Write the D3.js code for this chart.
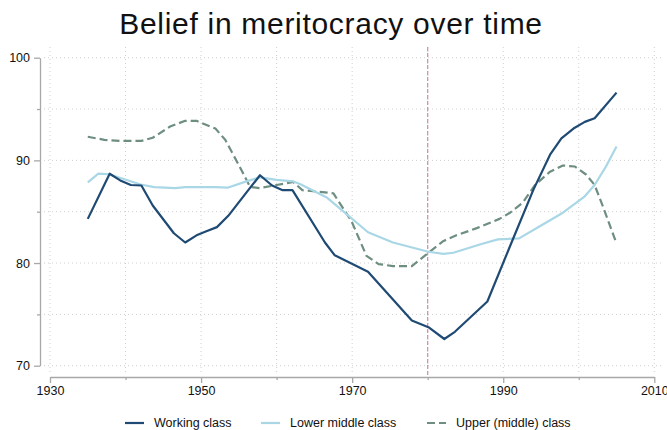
<!DOCTYPE html>
<html>
<head>
<meta charset="utf-8">
<script src="https://cdn.jsdelivr.net/npm/d3@7"></script>
<style>
  body { margin: 0; background: #fff; }
  svg { display: block; font-family: "Liberation Sans", Arial, Helvetica, sans-serif; }
</style>
</head>
<body>
<svg id="chart" width="667" height="430"></svg>
<script>
// values
const seriesNames = ['Working class', 'Lower middle class', 'Upper (middle) class'];

const workingYears = [1935, 1937.9, 1939.3, 1940.7, 1942.1, 1943.6, 1946.4, 1947.9, 1949.4, 1950.7, 1952.1, 1953.6, 1956.3, 1957.8, 1959.4, 1960.8, 1962.1, 1966.4, 1967.7, 1972.1, 1977.9, 1980.1, 1982.2, 1983.6, 1987.9, 1991.1, 1994.0, 1996.2, 1997.7, 1999.3, 2000.8, 2002.1, 2005];
const workingValues = [84.3, 88.7, 88.05, 87.6, 87.55, 85.6, 82.9, 82.0, 82.7, 83.1, 83.5, 84.6, 87.15, 88.55, 87.55, 87.1, 87.1, 82.0, 80.75, 79.15, 74.4, 73.75, 72.6, 73.3, 76.25, 82.0, 87.15, 90.55, 92.15, 93.1, 93.75, 94.1, 96.6];

const lowerYears = [1935, 1936.4, 1937.8, 1942.0, 1943.8, 1946.6, 1947.9, 1951.9, 1953.6, 1956.0, 1957.8, 1960.0, 1962.2, 1963.1, 1966.7, 1968.4, 1972.1, 1975.4, 1980.1, 1982.1, 1983.4, 1986.9, 1989.3, 1992.1, 1994.9, 1997.9, 2000.8, 2002.1, 2003.6, 2005];
const lowerValues = [87.85, 88.7, 88.65, 87.65, 87.4, 87.3, 87.4, 87.4, 87.35, 87.95, 88.35, 88.1, 87.95, 87.7, 86.35, 85.3, 83.0, 82.0, 81.1, 80.9, 81.0, 81.8, 82.3, 82.4, 83.6, 84.9, 86.5, 87.6, 89.4, 91.35];

const upperYears = [1935, 1937.2, 1939.3, 1942.1, 1943.6, 1945.9, 1947.9, 1949.4, 1951.9, 1953.2, 1955.1, 1956.5, 1957.8, 1960.0, 1962.2, 1963.4, 1967.5, 1969.9, 1971.9, 1973.5, 1975.4, 1977.9, 1980.1, 1982.1, 1983.8, 1986.5, 1989.5, 1990.9, 1992.6, 1994.2, 1996.2, 1997.9, 1999.5, 2001.0, 2002.1, 2003.2, 2005];
const upperValues = [92.3, 92.0, 91.9, 91.9, 92.2, 93.3, 93.85, 93.85, 93.1, 92.0, 89.4, 87.4, 87.3, 87.6, 87.9, 87.1, 86.8, 84.1, 80.7, 79.9, 79.7, 79.7, 81.0, 82.15, 82.7, 83.4, 84.3, 84.9, 85.9, 87.6, 88.9, 89.5, 89.4, 88.6, 87.6, 85.5, 81.9];

const xLabelTicks = [1930, 1950, 1970, 1990, 2010];
const xMinorTicks = [1940, 1960, 1980, 2000];
const yLabelTicks = [70, 80, 90, 100];
const yMinorTicks = [75, 85, 95];
const xGrid = [1930, 1940, 1950, 1960, 1970, 1980, 1990, 2000, 2010];
const yGrid = [70, 75, 80, 85, 90, 95, 100];
const markerYear = 1980;

const svg = d3.select('#chart');

const x = d3.scaleLinear().domain([1930, 2010]).range([50, 654.3]);
const y = d3.scaleLinear().domain([70, 100]).range([365.7, 57.7]);

const colors = ['#1f4a73', '#a9d7e6', '#6e8e80'];
const dashes = [null, null, '8,4'];

// title
svg.append('text')
  .attr('x', 331)
  .attr('y', 34)
  .attr('text-anchor', 'middle')
  .style('font-size', '30px')
  .style('letter-spacing', '0.7px')
  .style('fill', '#111')
  .text('Belief in meritocracy over time');

// grid
const grid = svg.append('g');
grid.selectAll('.hgrid')
  .data(yGrid)
  .enter()
  .append('line')
  .attr('x1', 44).attr('x2', 662)
  .attr('y1', d => y(d)).attr('y2', d => y(d))
  .attr('stroke', '#cfcfcf')
  .attr('stroke-width', 1)
  .attr('stroke-dasharray', '1,3');
grid.selectAll('.vgrid')
  .data(xGrid)
  .enter()
  .append('line')
  .attr('x1', d => x(d)).attr('x2', d => x(d))
  .attr('y1', 47).attr('y2', 375)
  .attr('stroke', '#cfcfcf')
  .attr('stroke-width', 1)
  .attr('stroke-dasharray', '1,3');

// axes
const axisColor = '#a8a8a8';
function styleAxis(g) {
  g.selectAll('path, line').attr('stroke', axisColor).attr('stroke-width', 1.3);
  g.selectAll('text').style('font-size', '12.5px').attr('fill', '#111');
}

svg.append('g')
  .attr('transform', 'translate(40,0)')
  .call(d3.axisLeft(y).tickValues(yLabelTicks).tickSize(6).tickSizeOuter(0).tickPadding(4))
  .call(styleAxis);
svg.append('g')
  .attr('transform', 'translate(40,0)')
  .call(d3.axisLeft(y).tickValues(yMinorTicks).tickSize(3).tickFormat(''))
  .call(g => g.select('.domain').remove())
  .call(styleAxis);

svg.append('g')
  .attr('transform', 'translate(0,377)')
  .call(d3.axisBottom(x).tickValues(xLabelTicks).tickSize(6).tickSizeOuter(0).tickFormat(d3.format('d')))
  .call(styleAxis);
svg.append('g')
  .attr('transform', 'translate(0,377)')
  .call(d3.axisBottom(x).tickValues(xMinorTicks).tickSize(3).tickFormat(''))
  .call(g => g.select('.domain').remove())
  .call(styleAxis);

// 1980 marker
svg.append('line')
  .attr('x1', x(markerYear)).attr('x2', x(markerYear))
  .attr('y1', 47).attr('y2', 377)
  .attr('stroke', '#d08aae')
  .attr('stroke-width', 1.2)
  .attr('stroke-dasharray', '4,2');

// lines
const series = [
  workingYears.map((yr, i) => [yr, workingValues[i]]),
  lowerYears.map((yr, i) => [yr, lowerValues[i]]),
  upperYears.map((yr, i) => [yr, upperValues[i]]),
];
const line = d3.line().x(d => x(d[0])).y(d => y(d[1]));

// draw upper first, then lower, then working on top
[2, 1, 0].forEach(i => {
  svg.append('path')
    .datum(series[i])
    .attr('fill', 'none')
    .attr('stroke', colors[i])
    .attr('stroke-width', 2.2)
    .attr('stroke-linejoin', 'round')
    .attr('stroke-dasharray', dashes[i])
    .attr('d', line);
});

// legend
const legendX = [125, 261, 427];
const legend = svg.selectAll('.legend')
  .data(seriesNames)
  .enter()
  .append('g')
  .attr('class', 'legend')
  .attr('transform', (d, i) => `translate(${legendX[i]}, 423)`);
legend.append('line')
  .attr('x1', 0).attr('x2', 19)
  .attr('y1', 0).attr('y2', 0)
  .attr('stroke', (d, i) => colors[i])
  .attr('stroke-width', 2.2)
  .attr('stroke-dasharray', (d, i) => dashes[i]);
legend.append('text')
  .attr('x', 29)
  .attr('y', 0)
  .attr('dy', '0.35em')
  .style('font-size', '12.5px')
  .style('fill', '#111')
  .text(d => d);
</script>
</body>
</html>
